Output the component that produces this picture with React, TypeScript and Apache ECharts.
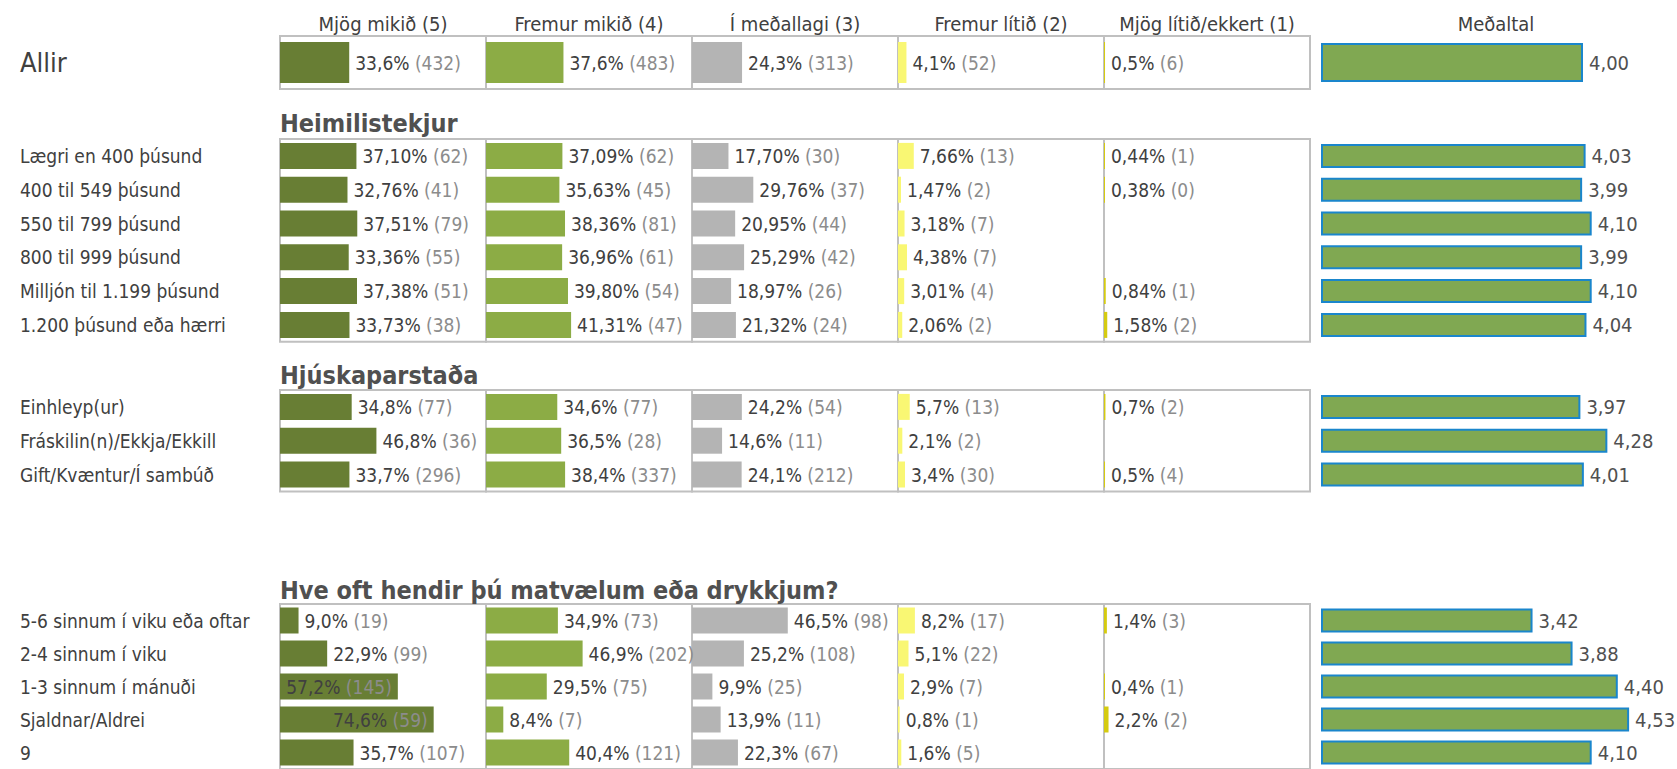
import React, { useEffect, useRef } from "react";
import * as echarts from "echarts";

const FONT = "'DejaVu Sans Condensed', 'Liberation Sans Narrow', sans-serif";

// ---- Column headers ----
const columnHeaders = [
  "Mjög mikið (5)",
  "Fremur mikið (4)",
  "Í meðallagi (3)",
  "Fremur lítið (2)",
  "Mjög lítið/ekkert (1)",
];
const meanHeader = "Meðaltal";

// ---- Allir ----
const allRows = ["Allir"];
const allPct = [[33.6], [37.6], [24.3], [4.1], [0.5]];
const allN = [[432], [483], [313], [52], [6]];
const allMean = [4.0];

// ---- Heimilistekjur ----
const incomeTitle = "Heimilistekjur";
const incomeRows = [
  "Lægri en 400 þúsund",
  "400 til 549 þúsund",
  "550 til 799 þúsund",
  "800 til 999 þúsund",
  "Milljón til 1.199 þúsund",
  "1.200 þúsund eða hærri",
];
const incomePct = [
  [37.1, 32.76, 37.51, 33.36, 37.38, 33.73],
  [37.09, 35.63, 38.36, 36.96, 39.8, 41.31],
  [17.7, 29.76, 20.95, 25.29, 18.97, 21.32],
  [7.66, 1.47, 3.18, 4.38, 3.01, 2.06],
  [0.44, 0.38, null, null, 0.84, 1.58],
];
const incomeN = [
  [62, 41, 79, 55, 51, 38],
  [62, 45, 81, 61, 54, 47],
  [30, 37, 44, 42, 26, 24],
  [13, 2, 7, 7, 4, 2],
  [1, 0, null, null, 1, 2],
];
const incomeMean = [4.03, 3.99, 4.1, 3.99, 4.1, 4.04];

// ---- Hjúskaparstaða ----
const maritalTitle = "Hjúskaparstaða";
const maritalRows = ["Einhleyp(ur)", "Fráskilin(n)/Ekkja/Ekkill", "Gift/Kvæntur/Í sambúð"];
const maritalPct = [
  [34.8, 46.8, 33.7],
  [34.6, 36.5, 38.4],
  [24.2, 14.6, 24.1],
  [5.7, 2.1, 3.4],
  [0.7, null, 0.5],
];
const maritalN = [
  [77, 36, 296],
  [77, 28, 337],
  [54, 11, 212],
  [13, 2, 30],
  [2, null, 4],
];
const maritalMean = [3.97, 4.28, 4.01];

// ---- Hve oft hendir þú matvælum eða drykkjum? ----
const wasteTitle = "Hve oft hendir þú matvælum eða drykkjum?";
const wasteRows = [
  "5-6 sinnum í viku eða oftar",
  "2-4 sinnum í viku",
  "1-3 sinnum í mánuði",
  "Sjaldnar/Aldrei",
  "9",
];
const wastePct = [
  [9.0, 22.9, 57.2, 74.6, 35.7],
  [34.9, 46.9, 29.5, 8.4, 40.4],
  [46.5, 25.2, 9.9, 13.9, 22.3],
  [8.2, 5.1, 2.9, 0.8, 1.6],
  [1.4, null, 0.4, 2.2, null],
];
const wasteN = [
  [19, 99, 145, 59, 107],
  [73, 202, 75, 7, 121],
  [98, 108, 25, 11, 67],
  [17, 22, 7, 1, 5],
  [3, null, 1, 2, null],
];
const wasteMean = [3.42, 3.88, 4.4, 4.53, 4.1];

const colColors = ["#687E34", "#8CAC45", "#B4B4B4", "#F9F773", "#D5CB10"];

type Section = {
  rows: string[];
  pct: (number | null)[][];
  n: (number | null)[][];
  mean: number[];
  dec: number;
  top: number;
  rowH: number;
  barW: number;
  labelSize: number;
  title?: string;
  titleY?: number;
};

const sections: Section[] = [
  { rows: allRows, pct: allPct, n: allN, mean: allMean, dec: 1, top: 36, rowH: 53, barW: 41, labelSize: 27 },
  { rows: incomeRows, pct: incomePct, n: incomeN, mean: incomeMean, dec: 2, top: 139, rowH: 33.8, barW: 26, labelSize: 19, title: incomeTitle, titleY: 123 },
  { rows: maritalRows, pct: maritalPct, n: maritalN, mean: maritalMean, dec: 1, top: 390, rowH: 33.8, barW: 26, labelSize: 19, title: maritalTitle, titleY: 375 },
  { rows: wasteRows, pct: wastePct, n: wasteN, mean: wasteMean, dec: 1, top: 604, rowH: 33.8, barW: 26, labelSize: 19, title: wasteTitle, titleY: 590 },
];

const COL_LEFT = 280;
const COL_W = 206;
const MEAN_LEFT = 1322;
const MEAN_W = 348;

function fmt(v: number, d: number) {
  return v.toFixed(d).replace(".", ",");
}

function buildOption() {
  const grid: any[] = [];
  const xAxis: any[] = [];
  const yAxis: any[] = [];
  const series: any[] = [];
  const graphic: any[] = [];

  sections.forEach((s, si) => {
    const h = s.rows.length * s.rowH;
    if (s.title) {
      graphic.push({
        type: "text",
        x: COL_LEFT,
        y: s.titleY,
        style: {
          text: s.title,
          fill: "#505050",
          fontSize: 25,
          fontWeight: "bold",
          fontFamily: FONT,
          verticalAlign: "middle",
        },
      });
    }
    for (let c = 0; c < 6; c++) {
      const isMean = c === 5;
      const gi = grid.length;
      const left = isMean ? MEAN_LEFT : COL_LEFT + COL_W * c;
      grid.push({
        left,
        top: s.top,
        width: isMean ? MEAN_W : COL_W,
        height: h,
        show: !isMean,
        borderColor: "#C0C0C0",
        borderWidth: 2,
        backgroundColor: "transparent",
      });
      xAxis.push({
        gridIndex: gi,
        type: "value",
        min: isMean ? 1 : 0,
        max: isMean ? 5 : 100,
        position: "top",
        axisLine: { show: false },
        axisTick: { show: false },
        axisLabel: { show: false },
        splitLine: { show: false },
        name: si === 0 ? (isMean ? meanHeader : columnHeaders[c]) : "",
        nameLocation: "middle",
        nameGap: 12,
        nameTextStyle: {
          fontSize: 20,
          color: "#404040",
          fontFamily: FONT,
          verticalAlign: "middle",
        },
      });
      yAxis.push({
        gridIndex: gi,
        type: "category",
        inverse: true,
        data: s.rows,
        axisLine: { show: false },
        axisTick: { show: false },
        splitLine: { show: false },
        axisLabel:
          c === 0
            ? {
                show: true,
                margin: left - 20,
                align: "left",
                fontSize: s.labelSize,
                color: "#404040",
                fontFamily: FONT,
              }
            : { show: false },
      });
      if (isMean) {
        series.push({
          type: "bar",
          xAxisIndex: gi,
          yAxisIndex: gi,
          barWidth: s.barW - 2,
          data: s.mean,
          itemStyle: { color: "#80A852", borderColor: "#1A86CC", borderWidth: 2 },
          label: {
            show: true,
            position: "right",
            distance: 6,
            formatter: (p: any) => fmt(p.value, 2),
            fontSize: 20,
            color: "#505050",
            fontFamily: FONT,
          },
        });
      } else {
        const pctCol = s.pct[c];
        const nCol = s.n[c];
        series.push({
          type: "bar",
          xAxisIndex: gi,
          yAxisIndex: gi,
          barWidth: s.barW,
          barMinHeight: 1,
          data: pctCol.map((v) =>
            v == null
              ? "-"
              : {
                  value: v,
                  label: { position: v > 50 ? "insideRight" : "right" },
                }
          ),
          itemStyle: { color: colColors[c] },
          label: {
            show: true,
            distance: 6,
            fontSize: 19,
            fontFamily: FONT,
            color: "#404040",
            textBorderWidth: 0,
            formatter: (p: any) => {
              const v = pctCol[p.dataIndex];
              const n = nCol[p.dataIndex];
              if (v == null) return "";
              return `{p|${fmt(v, s.dec)}%} {n|(${n})}`;
            },
            rich: {
              p: { color: "#404040", fontSize: 19, fontFamily: FONT },
              n: { color: "#8C8C8C", fontSize: 19, fontFamily: FONT },
            },
          },
        });
      }
    }
  });

  return {
    animation: false,
    backgroundColor: "#FFFFFF",
    textStyle: { fontFamily: FONT },
    grid,
    xAxis,
    yAxis,
    series,
    graphic,
  };
}

export default function App() {
  const ref = useRef<HTMLDivElement>(null);
  useEffect(() => {
    if (!ref.current) return;
    const chart = echarts.init(ref.current, undefined, { renderer: "svg" });
    chart.setOption(buildOption() as any);
    return () => chart.dispose();
  }, []);
  return (
    <div
      ref={ref}
      style={{ position: "absolute", left: 0, top: 0, width: 1677, height: 769, overflow: "hidden", background: "#fff" }}
    />
  );
}
